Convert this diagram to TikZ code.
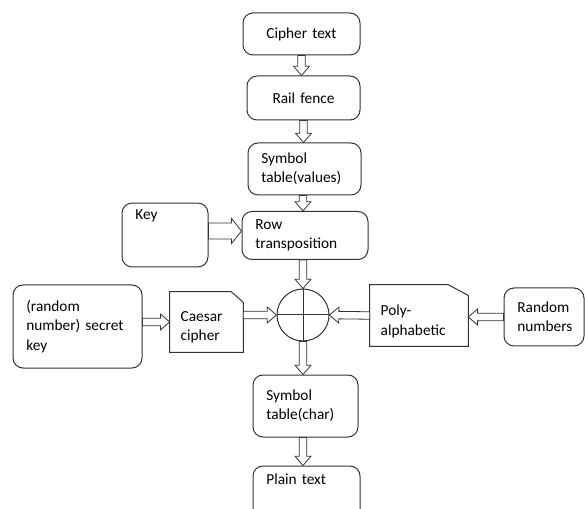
\documentclass[tikz,border=0pt]{standalone}
\usepackage{fontspec}
\setmainfont{Carlito}
\usetikzlibrary{calc}
\newcommand{\boxfont}{\fontsize{11.5}{14.5}\selectfont}
\newcommand{\lowstrut}[1]{\rule{0pt}{#1}}
\tikzset{
    arrow shaft/.store in=\arrshaft,
    arrow head/.store in=\arrhead,
    arrow tip len/.store in=\arrtiplen,
    arrow shaft=2.8pt, arrow head=6pt, arrow tip len=7pt,
    roundbox/.style={
        rectangle, rounded corners=7.5pt, draw=black!80, line width=0.75pt,
        inner xsep=10pt, inner ysep=5pt, align=left, font=\boxfont
    },
    cutbox/.style={
        rectangle, draw=none, inner xsep=8pt, inner ysep=5pt,
        align=left, font=\boxfont
    },
    outline/.style={
        draw=black!80, line width=0.75pt
    },
    xorbox/.style={
        circle, draw=black!80, line width=0.75pt, minimum size=39pt, inner sep=0pt
    },
    hollow/.style={
        draw=black!80, line width=0.6pt, fill=white,
        to path={
            let \p1=(\tikztostart), \p2=(\tikztotarget),
                \p3=($(\p2)!\arrtiplen!(\p1)$) in
            ($(\p1)!\arrshaft!90:(\p2)$) -- ($(\p3)!\arrshaft!-90:(\p1)$)
            -- ($(\p3)!\arrhead!-90:(\p1)$) -- (\p2)
            -- ($(\p3)!\arrhead!90:(\p1)$) -- ($(\p3)!\arrshaft!90:(\p1)$)
            -- ($(\p1)!\arrshaft!-90:(\p2)$) -- cycle
        }
    }
}

\begin{document}
\begin{tikzpicture}[x=0.75pt, y=-0.75pt]

    \useasboundingbox (0,0) rectangle (585,509);
    \clip (0,0) rectangle (585,509);

    \node[roundbox, align=center, text width=67.75pt, minimum height=31.5pt] (cipher) at (301.5,34)  {Cipher text};
    \node[roundbox, align=center, text width=64.75pt, minimum height=33pt]   (rail)   at (303.5,98)  {Rail fence};
    \node[roundbox, text width=64.75pt, minimum height=39pt]   (symv)   at (304.5,169) {Symbol\\table(values)};
    \node[roundbox, text width=74.5pt, minimum height=36pt]    (rowt)   at (305,235.5) {Row\\transposition};
    \node[roundbox, text width=44.5pt, text depth=30.5pt]      (key)    at (165,235)   {Key};
    \node[xorbox]                                              (xor)    at (303,315)   {};
    \node[cutbox, text width=38.75pt, minimum height=45pt]     (caesar) at (206.5,322) {\lowstrut{15pt}Caesar\\cipher};
    \node[roundbox, text width=76.75pt, minimum height=62.25pt] (secret) at (77.5,326.5) {(random\\number) secret\\key};
    \node[cutbox, text width=57.5pt, minimum height=45.75pt]   (poly)   at (419,315.5) {\lowstrut{17pt}Poly-\\alphabetic};
    \node[roundbox, text width=40pt, minimum height=43.5pt]    (rnd)    at (544,317)   {Random\\numbers};
    \node[roundbox, text width=58.75pt, minimum height=46.5pt] (symc)   at (305.5,406) {Symbol\\table(char)};
    \node[roundbox, text width=60.25pt, minimum height=40.5pt, text depth=20pt] (plain) at (306.5,493) {Plain text};

    % cipher boxes with one cut corner
    \draw[outline] (caesar.south west) -- (caesar.north west) -- ([xshift=-9pt]caesar.north east)
        -- ([yshift=-8pt]caesar.north east) -- (caesar.south east) -- cycle;
    \draw[outline] (poly.south west) -- (poly.north west) -- ([xshift=-15pt]poly.north east)
        -- ([yshift=-8pt]poly.north east) -- (poly.south east) -- cycle;

    \draw[outline] (xor.north) -- (xor.south);
    \draw[outline] (xor.west)  -- (xor.east);

    \draw[hollow] (cipher.south) to (cipher.south |- rail.north);
    \draw[hollow] (rail.south)   to (rail.south |- symv.north);
    \draw[hollow] (xor.north |- symv.south) to (xor.north |- rowt.north);
    \draw[hollow] (xor.north |- rowt.south) to (xor.north);
    \draw[hollow] (xor.south)    to (xor.south |- symc.north);
    \draw[hollow] (xor.south |- symc.south) to (xor.south |- plain.north);
    \draw[hollow, arrow shaft=6pt, arrow head=9.4pt, arrow tip len=7.5pt]
        ([yshift=3pt]key.east) to ([yshift=3pt]key.east -| rowt.west);
    \draw[hollow] (caesar.west -| secret.east) to (caesar.west);
    \draw[hollow] (caesar.east |- xor.west) to (xor.west);
    \draw[hollow] (poly.west) to (xor.east);
    \draw[hollow] (rnd.west) to (rnd.west -| poly.east);

\end{tikzpicture}
\end{document}
